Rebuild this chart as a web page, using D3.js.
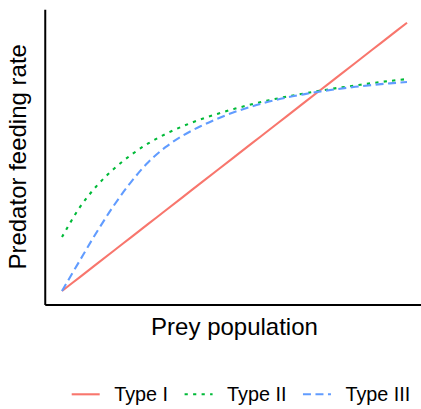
<!DOCTYPE html>
<html>
<head>
<meta charset="utf-8">
<script src="https://cdn.jsdelivr.net/npm/d3@7"></script>
<style>
  html, body { margin: 0; padding: 0; background: #fff; }
  svg { display: block; font-family: "Liberation Sans", Arial, Helvetica, sans-serif; }
</style>
</head>
<body>
<svg id="chart" width="421" height="409"></svg>
<script>
// Prey population (arbitrary units)
const prey = [0, 0.5, 1, 1.5, 2, 2.5, 3, 3.5, 4, 4.5, 5, 5.5, 6, 6.5, 7, 7.5, 8, 8.5, 9, 9.5, 10];
// Predator feeding rate for each functional response type
const typeI   = [0, 0.5, 1, 1.5, 2, 2.5, 3, 3.5, 4, 4.5, 5, 5.5, 6, 6.5, 7, 7.5, 8, 8.5, 9, 9.5, 10];
const typeII  = [2.01, 3.09, 3.91, 4.55, 5.07, 5.50, 5.85, 6.14, 6.39, 6.60, 6.79, 6.96, 7.11, 7.24, 7.36, 7.47, 7.57, 7.66, 7.75, 7.83, 7.90];
const typeIII = [0, 1.10, 2.18, 3.18, 4.06, 4.80, 5.36, 5.79, 6.13, 6.42, 6.67, 6.88, 7.06, 7.21, 7.33, 7.44, 7.53, 7.61, 7.68, 7.74, 7.79];
const seriesNames = ["Type I", "Type II", "Type III"];
const xTitle = "Prey population";
const yTitle = "Predator feeding rate";

const series = [
  { name: seriesNames[0], values: typeI,   color: "#F8766D", dash: null },
  { name: seriesNames[1], values: typeII,  color: "#00BA38", dash: "3.2 5.3" },
  { name: seriesNames[2], values: typeIII, color: "#619CFF", dash: "8 4.5" }
];

const svg = d3.select("#chart");
const panel = { left: 44.75, right: 424.25, top: 9.3, bottom: 304.4 };

function expand(ext) {
  const d = (ext[1] - ext[0]) * 0.05;
  return [ext[0] - d, ext[1] + d];
}
const allY = typeI.concat(typeII, typeIII);
const x = d3.scaleLinear().domain(expand(d3.extent(prey))).range([panel.left, panel.right]);
const y = d3.scaleLinear().domain(expand(d3.extent(allY))).range([panel.bottom, panel.top]);

const line = d3.line()
  .x((d, i) => x(prey[i]))
  .y(d => y(d))
  .curve(d3.curveCatmullRom.alpha(0.5));

const lw = 2.1;
svg.append("g").selectAll("path")
  .data(series)
  .join("path")
  .attr("fill", "none")
  .attr("stroke", d => d.color)
  .attr("stroke-width", lw)
  .attr("stroke-linecap", "butt")
  .attr("stroke-dasharray", d => d.dash)
  .attr("d", d => line(d.values));

// Axes (lines only, no ticks)
const xAxis = d3.axisBottom(x).tickValues([]).tickSizeOuter(0);
const yAxis = d3.axisLeft(y).tickValues([]).tickSizeOuter(0);
svg.append("g").attr("transform", `translate(0,${panel.bottom})`).call(xAxis)
  .select(".domain").attr("stroke", "#000").attr("stroke-width", 2);
svg.append("g").attr("transform", `translate(${panel.left},0)`).call(yAxis)
  .select(".domain").attr("stroke", "#000").attr("stroke-width", 2);

// Axis titles
svg.append("text")
  .attr("x", (panel.left + panel.right) / 2)
  .attr("y", 335)
  .attr("text-anchor", "middle")
  .attr("font-size", 24)
  .attr("fill", "#000")
  .text(xTitle);
svg.append("text")
  .attr("transform", `translate(25.5,${(panel.top + panel.bottom) / 2}) rotate(-90)`)
  .attr("text-anchor", "middle")
  .attr("font-size", 24)
  .attr("fill", "#000")
  .text(yTitle);

// Legend
const legendY = 394.3;
const keyW = 28;
let cx = 71.7;
series.forEach(s => {
  const g = svg.append("g");
  g.append("line")
    .attr("x1", cx).attr("x2", cx + keyW)
    .attr("y1", legendY).attr("y2", legendY)
    .attr("stroke", s.color)
    .attr("stroke-width", lw)
    .attr("stroke-dasharray", s.dash);
  const t = g.append("text")
    .attr("x", cx + keyW + 14.5)
    .attr("y", 401.3)
    .attr("font-size", 19.8)
    .attr("fill", "#000")
    .text(s.name);
  const w = t.node().getComputedTextLength();
  cx = cx + keyW + 14.5 + w + 16.5;
});
</script>
</body>
</html>
